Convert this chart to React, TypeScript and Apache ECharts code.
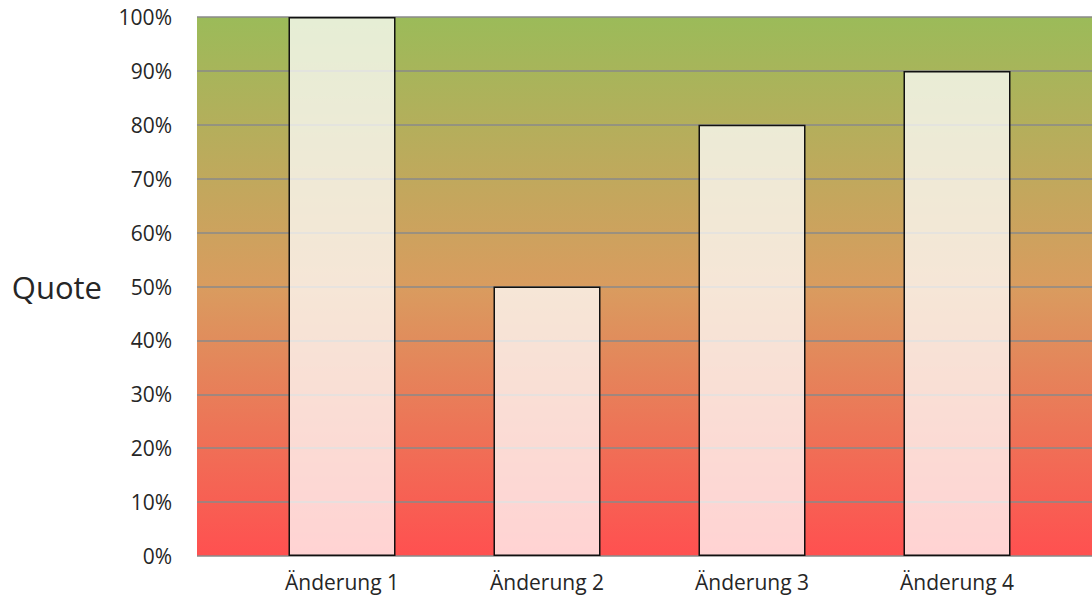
import React, { useEffect, useRef } from "react";
import * as echarts from "echarts";

const categories = ["Änderung 1", "Änderung 2", "Änderung 3", "Änderung 4"];
const quoteValues = [100, 50, 80, 90];
const yAxisName = "Quote";

export default function App() {
  const ref = useRef<HTMLDivElement>(null);
  useEffect(() => {
    if (!ref.current) return;
    const chart = echarts.init(ref.current, null, { renderer: "svg" });
    const font = "'Open Sans', sans-serif";
    chart.setOption({
      animation: false,
      grid: [
        {
          left: 197,
          right: 0,
          top: 17,
          bottom: 41,
          show: true,
          borderWidth: 0,
          backgroundColor: new echarts.graphic.LinearGradient(0, 0, 0, 1, [
            { offset: 0, color: "#9bbb59" },
            { offset: 0.5, color: "#d99c5f" },
            { offset: 1, color: "#ff5050" },
          ]),
        },
        { left: 239.5, width: 820, top: 17, bottom: 41 },
      ],
      xAxis: [
        { gridIndex: 0, type: "category", data: categories, show: false },
        {
          gridIndex: 1,
          type: "category",
          data: categories,
          axisLine: { show: false },
          axisTick: { show: false },
          axisLabel: { color: "#262626", fontSize: 21, fontFamily: font, margin: 15 },
        },
      ],
      yAxis: [
        {
          gridIndex: 0,
          type: "value",
          min: 0,
          max: 100,
          interval: 10,
          name: yAxisName,
          nameLocation: "middle",
          nameRotate: 0,
          nameGap: 95,
          nameTextStyle: { color: "#262626", fontSize: 31, fontFamily: font, align: "right", verticalAlign: "middle" },
          axisLine: { show: false },
          axisTick: { show: false },
          axisLabel: { formatter: "{value}%", color: "#262626", fontSize: 21, fontFamily: font, margin: 25 },
          splitLine: { lineStyle: { color: "#8a8a8a", width: 1.5 } },
        },
        { gridIndex: 1, type: "value", min: 0, max: 100, interval: 10, show: false },
      ],
      series: [
        {
          type: "bar",
          xAxisIndex: 1,
          yAxisIndex: 1,
          data: quoteValues,
          barWidth: 107,
          itemStyle: {
            color: "rgba(255,255,255,0.75)",
            borderColor: "#111",
            borderWidth: 1.5,
          },
        },
      ],
    });
    return () => chart.dispose();
  }, []);
  return (
    <div
      ref={ref}
      style={{ position: "absolute", left: 0, top: 0, width: 1092, height: 597 }}
    />
  );
}
